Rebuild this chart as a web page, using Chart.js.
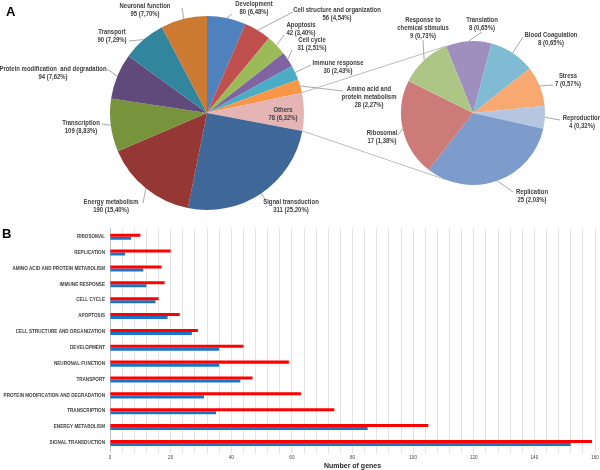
<!DOCTYPE html>
<html>
<head>
<meta charset="utf-8">
<script src="https://cdn.jsdelivr.net/npm/chart.js@4/dist/chart.umd.min.js"></script>
<style>
    html, body { margin: 0; padding: 0; background: #fff; }
    #wrap { position: relative; width: 600px; height: 470px; overflow: hidden; }
    canvas { position: absolute; left: 0; }
    .panel { position: absolute; font: bold 13px 'Liberation Sans', Arial, sans-serif; color: #000; }
</style>
</head>
<body>
<div id="wrap">
    <canvas id="pieMain" style="top:0" width="600" height="225"></canvas>
    <canvas id="pieOthers" style="top:0" width="600" height="225"></canvas>
    <canvas id="barChart" style="top:225px" width="600" height="245"></canvas>
    <div class="panel" style="left:6px;top:4px">A</div>
    <div class="panel" style="left:2px;top:226px">B</div>
</div>
<script>
// Datos del gráfico A (pie principal)
const mainCategories = ['Development', 'Cell structure and organization', 'Apoptosis', 'Cell cycle', 'Immune response',
    ['Amino acid and', 'protein metabolism'], 'Others', 'Signal transduction', 'Energy metabolism', 'Transcription',
    'Protein modification  and degradation', 'Transport', 'Neuronal function'];
const mainCounts = [80, 56, 42, 31, 30, 28, 78, 311, 190, 109, 94, 90, 95];
const mainColors = ['#4f81bd', '#c0504d', '#9bbb59', '#8064a2', '#4bacc6', '#f79646', '#e4b5b4',
    '#3f6899', '#953735', '#77933c', '#604a7b', '#31859c', '#cc7a32'];

// Datos del pie secundario ("Others")
const otherCategories = ['Translation', 'Blood Coagulation', 'Stress', 'Reproduction', 'Replication', 'Ribosomal',
    ['Response to', 'chemical stimulus']];
const otherCounts = [8, 8, 7, 4, 25, 17, 9];
const otherColors = ['#9f8fbf', '#7fbcd3', '#f8a871', '#b6c5e0', '#7d9ccb', '#cd7b78', '#adc686'];

// Datos del gráfico B (barras)
const barCategories = ['RIBOSOMAL', 'REPLICATION', 'AMINO ACID AND PROTEIN METABOLISM', 'IMMUNE RESPONSE', 'CELL CYCLE',
    'APOPTOSIS', 'CELL STRUCTURE AND ORGANIZATION', 'DEVELOPMENT', 'NEURONAL FUNCTION', 'TRANSPORT',
    'PROTEIN MODIFICATION AND DEGRADATION', 'TRANSCRIPTION', 'ENERGY METABOLISM', 'SIGNAL TRANSDUCTION'];
const redCounts = [10, 20, 17, 18, 16, 23, 29, 44, 59, 47, 63, 74, 105, 159];
const blueCounts = [7, 5, 11, 12, 15, 19, 27, 36, 36, 43, 31, 35, 85, 152];
const xMax = 160;
const xGridStep = 4;
const xLabelStep = 20;

const FONT = "'Liberation Sans', Arial, sans-serif";
const total = mainCounts.reduce((a, b) => a + b, 0);

// Posición de las etiquetas (centro de la primera línea y extremo de la línea guía)
const mainLabelPos = [
    { x: 254, y: 4, lx: 232, ly: 14 },
    { x: 337, y: 10, lx: 293, ly: 12 },
    { x: 301, y: 25, lx: 284, ly: 35 },
    { x: 312, y: 40, lx: 292, ly: 50 },
    { x: 338, y: 63, lx: 311, ly: 65 },
    { x: 369, y: 89, lx: 343, ly: 91 },
    { x: 283, y: 110 },
    { x: 291, y: 202, lx: 266, ly: 201 },
    { x: 111, y: 202, lx: 143, ly: 203 },
    { x: 81, y: 123, lx: 102, ly: 124 },
    { x: 53, y: 69, lx: 107, ly: 69 },
    { x: 112, y: 32, lx: 129, ly: 41 },
    { x: 145, y: 6, lx: 182, ly: 8 }
];
const otherLabelPos = [
    { x: 482, y: 20, lx: 482, ly: 32 },
    { x: 551, y: 35, lx: 523, ly: 37 },
    { x: 568, y: 76, lx: 553, ly: 85 },
    { x: 582, y: 118, lx: 560, ly: 120 },
    { x: 532, y: 192, lx: 513, ly: 192 },
    { x: 382, y: 133, lx: 398, ly: 135 },
    { x: 423, y: 20, lx: 423, ly: 40 }
];

function pct(v) {
    return (v / total * 100).toFixed(2).replace('.', ',');
}

// Plugin para dibujar etiquetas con líneas guía
const pieLabels = {
    id: 'pieLabels',
    afterDatasetsDraw(chart, args, opts) {
        const c = chart.ctx;
        const arcs = chart.getDatasetMeta(0).data;
        c.save();
        c.strokeStyle = '#8c8c8c';
        c.lineWidth = 0.75;
        opts.pos.forEach((p, i) => {
            if (p.lx !== undefined) {
                const el = arcs[i];
                const mid = (el.startAngle + el.endAngle) / 2;
                c.beginPath();
                c.moveTo(el.x + Math.cos(mid) * el.outerRadius, el.y + Math.sin(mid) * el.outerRadius);
                c.lineTo(p.lx, p.ly);
                c.stroke();
            }
            const name = opts.names[i];
            const lines = (Array.isArray(name) ? name : [name]).concat(opts.counts[i] + ' (' + pct(opts.counts[i]) + '%)');
            c.font = 'bold 7px ' + FONT;
            c.fillStyle = '#404040';
            c.textAlign = 'center';
            c.textBaseline = 'middle';
            lines.forEach((t, k) => {
                // texto estrechado para parecerse a Calibri
                c.save();
                c.translate(p.x, p.y + k * 8);
                c.scale(0.85, 1);
                c.fillText(t, 0, 0);
                c.restore();
            });
        });
        c.restore();
    }
};

const mainChart = new Chart(document.getElementById('pieMain'), {
    type: 'pie',
    data: {
        labels: mainCategories,
        datasets: [{ data: mainCounts, backgroundColor: mainColors, borderWidth: 0 }]
    },
    options: {
        responsive: false,
        animation: false,
        layout: { padding: { left: 110, right: 296, top: 16, bottom: 15 } },
        plugins: {
            legend: { display: false },
            tooltip: { enabled: false },
            pieLabels: { pos: mainLabelPos, names: mainCategories, counts: mainCounts }
        }
    },
    plugins: [pieLabels]
});

// Líneas que conectan "Others" con el pie secundario
const connectors = {
    id: 'connectors',
    afterDatasetsDraw(chart) {
        const c = chart.ctx;
        const others = mainChart.getDatasetMeta(0).data[6];
        const first = chart.getDatasetMeta(0).data[0];
        const a0 = first.startAngle;
        const r = first.outerRadius;
        c.save();
        c.strokeStyle = '#a6a6a6';
        c.lineWidth = 0.75;
        c.beginPath();
        c.moveTo(others.x + Math.cos(others.startAngle) * others.outerRadius, others.y + Math.sin(others.startAngle) * others.outerRadius);
        c.lineTo(first.x + Math.cos(a0) * r, first.y + Math.sin(a0) * r);
        c.moveTo(others.x + Math.cos(others.endAngle) * others.outerRadius, others.y + Math.sin(others.endAngle) * others.outerRadius);
        c.lineTo(first.x + Math.cos(-a0) * r, first.y + Math.sin(-a0) * r);
        c.stroke();
        c.restore();
    }
};

new Chart(document.getElementById('pieOthers'), {
    type: 'pie',
    data: {
        labels: otherCategories,
        datasets: [{ data: otherCounts, backgroundColor: otherColors, borderWidth: 0 }]
    },
    options: {
        responsive: false,
        animation: false,
        rotation: -22,
        layout: { padding: { left: 401, right: 55, top: 41, bottom: 40 } },
        plugins: {
            legend: { display: false },
            tooltip: { enabled: false },
            pieLabels: { pos: otherLabelPos, names: otherCategories, counts: otherCounts }
        }
    },
    plugins: [connectors, pieLabels]
});

// Gráfico de barras horizontales
new Chart(document.getElementById('barChart'), {
    type: 'bar',
    data: {
        labels: barCategories,
        datasets: [
            { data: redCounts, backgroundColor: '#ff0000', barPercentage: 1, categoryPercentage: 0.38 },
            { data: blueCounts, backgroundColor: '#1c74c4', barPercentage: 1, categoryPercentage: 0.38 }
        ]
    },
    options: {
        indexAxis: 'y',
        responsive: false,
        animation: false,
        layout: { padding: { top: 3.6, right: 5, bottom: 0, left: 0 } },
        plugins: { legend: { display: false }, tooltip: { enabled: false } },
        scales: {
            x: {
                min: 0,
                max: xMax,
                ticks: {
                    stepSize: xGridStep,
                    autoSkip: false,
                    maxRotation: 0,
                    padding: 1,
                    color: '#404040',
                    font: { size: 4.5, family: FONT },
                    callback: v => (v % xLabelStep === 0 ? v : '')
                },
                grid: { color: '#d9d9d9', lineWidth: 0.75, tickLength: 3 },
                border: { display: false },
                title: {
                    display: true,
                    text: 'Number of genes',
                    color: '#262626',
                    padding: 0,
                    font: { size: 7, weight: 'bold', family: FONT }
                },
                afterFit: s => { s.height = 19.1; }
            },
            y: {
                ticks: { autoSkip: false, padding: 1, color: '#404040', font: { size: 4.6, weight: 'bold', family: FONT } },
                grid: { display: false, tickLength: 4 },
                border: { color: '#bfbfbf' },
                afterFit: s => { s.width = 110; }
            }
        }
    }
});
</script>
</body>
</html>
